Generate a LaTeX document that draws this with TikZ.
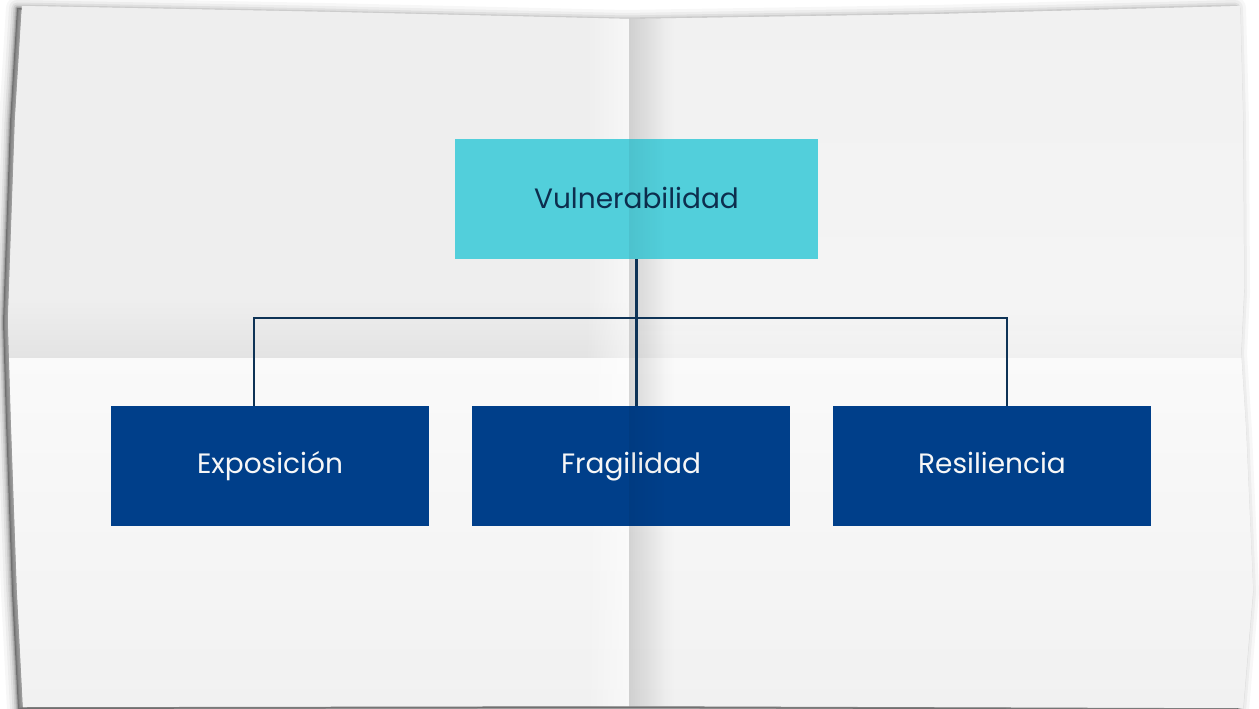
\documentclass[tikz,border=0pt]{standalone}
\usepackage{fontspec}
\setmainfont{Poppins}
\usetikzlibrary{calc,fadings}
\definecolor{teal1}{HTML}{52CFDB}
\definecolor{navy1}{HTML}{003F8A}
\definecolor{line1}{HTML}{0E3356}
\definecolor{txt1}{HTML}{0D2E4E}
\def\paperpath{(22,6) -- (330,12) -- (630,19) -- (940,14) -- (1240,6) -- (1243,120) -- (1244,290) -- (1241,352) -- (1246,430) -- (1253,590) -- (1243,708) -- (630,706) -- (23,707) -- (17,590) -- (11,420) -- (8,320) -- (15,120) -- cycle}
\tikzset{
  boxfont/.style={font=\fontsize{21}{25}\selectfont, text height=15pt, text depth=4pt},
  topbox/.style={fill=teal1, text=txt1, minimum width=272.25pt, minimum height=90pt, inner sep=0pt, boxfont},
  subbox/.style={fill=navy1, text=white!94!gray, minimum width=238.5pt, minimum height=90pt, inner sep=0pt, boxfont},
  conn/.style={draw=line1, line width=1.8pt}
}
\begin{document}
\begin{tikzpicture}[x=0.75pt,y=-0.75pt]
\useasboundingbox (0,0) rectangle (1259,709);
\fill[white] (0,0) rectangle (1259,709);
% shadow
\begin{scope}[shift={(-5,2)}]
\foreach \w/\o in {22/0.03, 16/0.04, 11/0.06, 7/0.08, 4/0.1, 2/0.12} {
  \draw[line width=\w*0.75pt, black, opacity=\o, line join=round] \paperpath;
}
\fill[black, opacity=0.3] \paperpath;
\end{scope}
% paper
\fill[white!94!black] \paperpath;
\begin{scope}
\clip \paperpath;
\fill[white!93.5!black] (0,0) rectangle (629,358);
\fill[black, opacity=0.045, path fading=north] (0,300) rectangle (629,358);
\shade[top color=white!98!black, bottom color=white!94.5!black] (0,358) rectangle (629,709);
\shade[top color=white!94.5!black, bottom color=white!96!black] (629,0) rectangle (1259,358);
\fill[black, opacity=0.02, path fading=north] (629,310) rectangle (1259,358);
\shade[top color=white!98!black, bottom color=white!94.5!black] (629,358) rectangle (1259,709);
\fill[white, opacity=0.55, path fading=west] (585,0) rectangle (629,709);
\fill[black, opacity=0.08, path fading=east] (629,0) rectangle (675,709);
\end{scope}
% nodes
\node[topbox] (v) at (636.5,199) {\raisebox{-2pt}{Vulnerabilidad}};
\node[subbox] (e) at (270,466) {Exposición};
\node[subbox] (f) at (631,466) {Fragilidad};
\node[subbox] (r) at (992,466) {Resiliencia};
% fold overlay on boxes
\begin{scope}
\clip \paperpath;
\fill[black, opacity=0.06, path fading=east] (629,0) rectangle (665,709);
\end{scope}
% connectors
\coordinate (bus) at ($(v.south)+(0,59)$);
\draw[conn] (v.south) -- (v.south |- f.north);
\draw[conn] ($(e.north)+(-16,0)$) |- (bus) -| ($(r.north)+(15,0)$);
\end{tikzpicture}
\end{document}
